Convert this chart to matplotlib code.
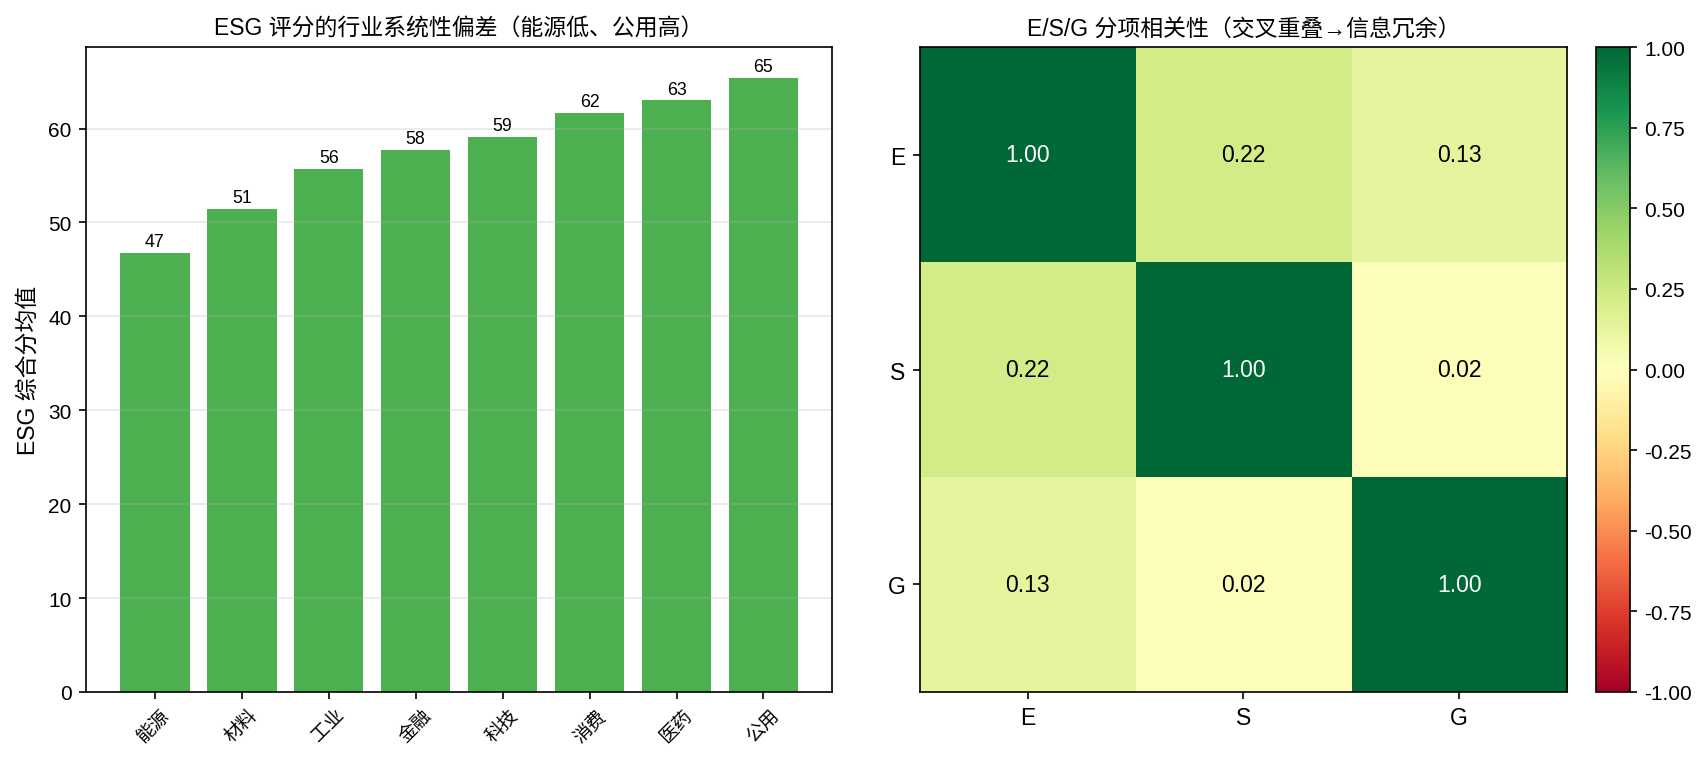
import numpy as np
import matplotlib
matplotlib.use("Agg")
import matplotlib.pyplot as plt

plt.rcParams['font.family'] = ['Liberation Sans', 'Noto Sans CJK SC', 'DejaVu Sans']
plt.rcParams['axes.unicode_minus'] = False

# industry average ESG scores
industries = ['能源', '材料', '工业', '金融', '科技', '消费', '医药', '公用']
esg_mean = [46.8, 51.4, 55.7, 57.7, 59.1, 61.7, 63.0, 65.4]

# E/S/G correlation matrix
pillars = ['E', 'S', 'G']
corr = np.array([
    [1.00, 0.22, 0.13],
    [0.22, 1.00, 0.02],
    [0.13, 0.02, 1.00],
])

fig = plt.figure(figsize=(11.387, 5.093), dpi=150)

ax1 = fig.add_axes([0.0504, 0.093, 0.4368, 0.844])
bars = ax1.bar(industries, esg_mean, color='#4CAF50', width=0.8)
for b, v in zip(bars, esg_mean):
    ax1.text(b.get_x() + b.get_width() / 2, v + 0.3, f'{v:.0f}',
             ha='center', va='bottom', fontsize=8.5)
ax1.set_title('ESG 评分的行业系统性偏差（能源低、公用高）', fontsize=11)
ax1.set_ylabel('ESG 综合分均值', fontsize=11)
ax1.tick_params(axis='x', labelrotation=45, labelsize=9)
ax1.tick_params(axis='y', labelsize=10)
ax1.grid(axis='y', alpha=0.3)

ax2 = fig.add_axes([0.5386, 0.093, 0.3788, 0.844])
im = ax2.imshow(corr, cmap='RdYlGn', vmin=-1, vmax=1, aspect='auto')
ax2.set_xticks(range(len(pillars)))
ax2.set_xticklabels(pillars)
ax2.set_yticks(range(len(pillars)))
ax2.set_yticklabels(pillars)
ax2.tick_params(labelsize=11)
for i in range(len(pillars)):
    for j in range(len(pillars)):
        v = corr[i, j]
        ax2.text(j, i, f'{v:.2f}', ha='center', va='center', fontsize=11,
                 color='white' if abs(v) > 0.5 else 'black')
ax2.set_title('E/S/G 分项相关性（交叉重叠→信息冗余）', fontsize=11)

cax = fig.add_axes([0.9344, 0.093, 0.0199, 0.844])
cb = fig.colorbar(im, cax=cax)
cticks = [-1, -0.75, -0.5, -0.25, 0, 0.25, 0.5, 0.75, 1]
cb.set_ticks(cticks)
cb.ax.set_yticklabels([f'{t:.2f}' for t in cticks])
cb.ax.tick_params(labelsize=10)

fig.savefig('out.png', dpi=150)
